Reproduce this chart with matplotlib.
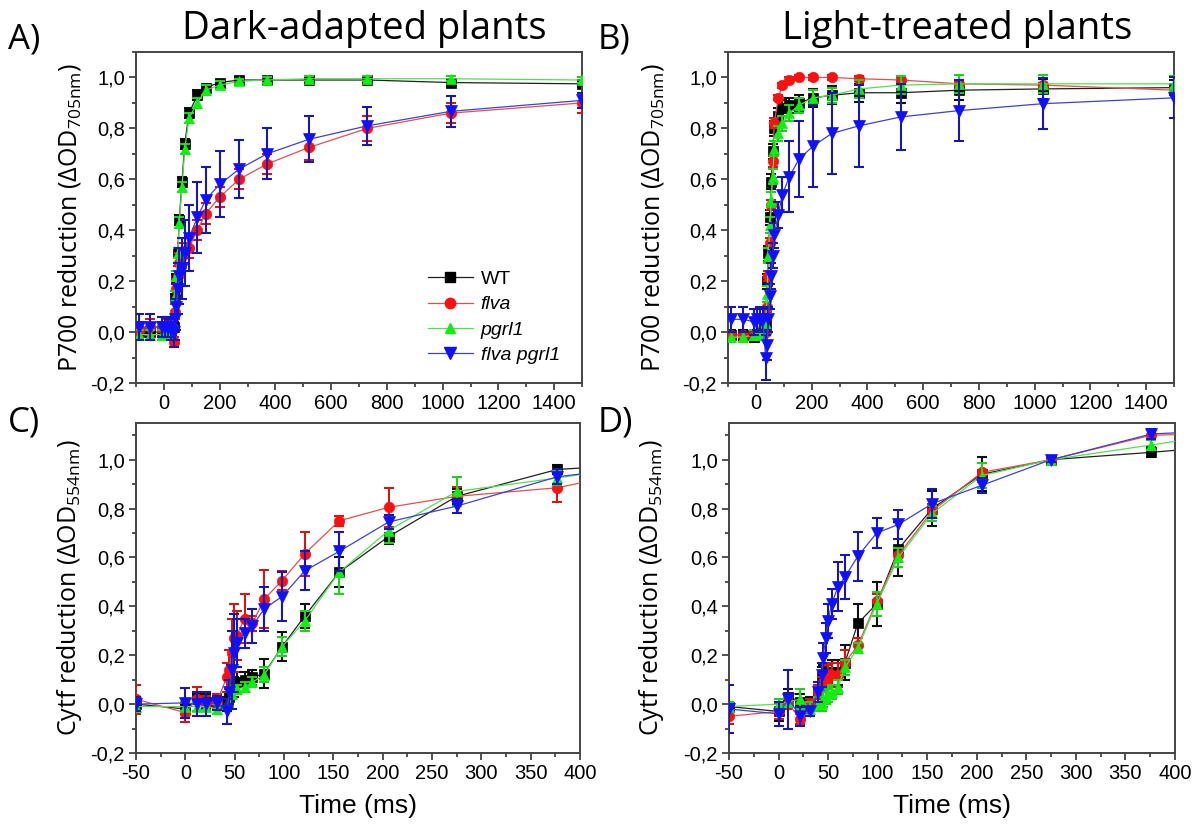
import matplotlib
matplotlib.use("Agg")
import matplotlib.pyplot as plt
from matplotlib.lines import Line2D
from matplotlib.ticker import MultipleLocator, FuncFormatter

# ---------------- data ----------------
series_names = ["WT", "flva", "pgrl1", "flva pgrl1"]

# Panel A: dark-adapted, P700 reduction
tA = [-90, -50, -5, 5, 15, 25, 35, 40, 45, 50, 55, 65, 75, 90, 120, 150, 200, 270, 370, 520, 730, 1030, 1500]
A_wt = [0.0, 0.0, 0.0, 0.0, 0.0, 0.0, 0.02, 0.13, 0.21, 0.31, 0.44, 0.59, 0.74, 0.86, 0.93, 0.96, 0.98, 0.99, 0.99, 0.99, 0.99, 0.98, 0.975]
A_flva = [0.01, 0.02, 0.02, 0.02, 0.03, 0.02, -0.04, 0.08, 0.17, 0.22, 0.27, 0.30, 0.32, 0.33, 0.40, 0.465, 0.53, 0.60, 0.66, 0.725, 0.80, 0.86, 0.90]
A_pgrl1 = [-0.01, -0.01, -0.01, -0.01, -0.01, -0.01, 0.03, 0.14, 0.22, 0.31, 0.43, 0.57, 0.72, 0.84, 0.90, 0.95, 0.97, 0.985, 0.99, 0.995, 0.995, 0.995, 0.99]
A_dbl = [0.02, 0.02, 0.02, 0.02, 0.02, 0.01, 0.0, 0.05, 0.10, 0.17, 0.22, 0.25, 0.31, 0.37, 0.45, 0.52, 0.58, 0.64, 0.70, 0.757, 0.81, 0.867, 0.91]
A_wt_err = [0.02, 0.02, 0.02, 0.02, 0.02, 0.02, 0.02, 0.02, 0.02, 0.02, 0.02, 0.02, 0.02, 0.02, 0.02, 0.015, 0.01, 0.01, 0.01, 0.01, 0.01, 0.01, 0.01]
A_flva_err = [0.03, 0.03, 0.02, 0.02, 0.02, 0.02, 0.02, 0.03, 0.04, 0.04, 0.04, 0.05, 0.05, 0.04, 0.04, 0.04, 0.04, 0.04, 0.04, 0.05, 0.05, 0.04, 0.04]
A_pgrl1_err = [0.02, 0.02, 0.02, 0.02, 0.02, 0.02, 0.02, 0.02, 0.02, 0.02, 0.02, 0.02, 0.02, 0.02, 0.02, 0.02, 0.015, 0.01, 0.01, 0.01, 0.01, 0.01, 0.01]
A_dbl_err = [0.05, 0.05, 0.04, 0.04, 0.04, 0.04, 0.06, 0.08, 0.09, 0.10, 0.11, 0.12, 0.13, 0.13, 0.14, 0.13, 0.13, 0.115, 0.10, 0.09, 0.075, 0.06, 0.03]

# Panel B: light-treated, P700 reduction
tB = [-90, -45, -5, 5, 15, 25, 35, 40, 45, 50, 55, 60, 66, 80, 95, 120, 155, 205, 272, 370, 520, 730, 1030, 1500]
B_wt = [-0.01, -0.01, -0.02, -0.01, -0.01, 0.0, 0.03, 0.20, 0.31, 0.45, 0.59, 0.71, 0.80, 0.85, 0.88, 0.89, 0.90, 0.92, 0.93, 0.94, 0.94, 0.95, 0.955, 0.96]
B_flva = [-0.01, -0.01, -0.01, -0.01, -0.01, 0.0, 0.0, 0.10, 0.22, 0.35, 0.50, 0.67, 0.82, 0.92, 0.97, 0.99, 1.0, 1.0, 1.0, 0.995, 0.99, 0.975, 0.97, 0.95]
B_pgrl1 = [-0.02, -0.02, -0.01, -0.01, -0.01, 0.0, 0.03, 0.15, 0.30, 0.42, 0.52, 0.61, 0.72, 0.78, 0.82, 0.86, 0.89, 0.92, 0.93, 0.955, 0.97, 0.975, 0.975, 0.975]
B_dbl = [0.05, 0.05, 0.04, 0.05, 0.05, 0.05, -0.10, -0.05, 0.05, 0.14, 0.22, 0.30, 0.38, 0.46, 0.54, 0.61, 0.68, 0.73, 0.78, 0.81, 0.845, 0.87, 0.897, 0.92]
B_wt_err = [0.02, 0.02, 0.02, 0.02, 0.02, 0.02, 0.02, 0.03, 0.03, 0.03, 0.03, 0.03, 0.03, 0.03, 0.03, 0.03, 0.03, 0.035, 0.035, 0.035, 0.04, 0.04, 0.04, 0.03]
B_flva_err = [0.01, 0.01, 0.01, 0.01, 0.01, 0.01, 0.01, 0.02, 0.02, 0.02, 0.02, 0.02, 0.02, 0.01, 0.01, 0.01, 0.01, 0.01, 0.01, 0.01, 0.01, 0.01, 0.01, 0.01]
B_pgrl1_err = [0.02, 0.02, 0.02, 0.02, 0.02, 0.02, 0.02, 0.03, 0.03, 0.03, 0.03, 0.03, 0.03, 0.03, 0.03, 0.03, 0.03, 0.03, 0.03, 0.035, 0.035, 0.035, 0.035, 0.03]
B_dbl_err = [0.05, 0.05, 0.05, 0.04, 0.05, 0.04, 0.09, 0.06, 0.05, 0.05, 0.05, 0.05, 0.05, 0.05, 0.07, 0.14, 0.15, 0.16, 0.16, 0.16, 0.13, 0.12, 0.10, 0.08]

# Panel C: dark-adapted, Cytf reduction
tC = [-50, 0, 12, 21, 32, 42, 44.5, 47, 49, 52, 60, 68, 80, 98, 121, 156, 206, 275, 377, 500]
C_wt = [0.0, -0.02, 0.02, 0.01, 0.01, 0.0, 0.03, 0.06, 0.07, 0.09, 0.10, 0.11, 0.125, 0.235, 0.36, 0.54, 0.685, 0.85, 0.96, 0.99]
C_flva = [0.02, -0.035, 0.02, 0.005, 0.01, 0.11, 0.14, 0.21, 0.27, 0.28, 0.35, 0.33, 0.43, 0.505, 0.615, 0.75, 0.805, 0.85, 0.885, 0.99]
C_pgrl1 = [-0.01, -0.01, -0.01, -0.01, -0.02, 0.0, 0.0, 0.04, 0.06, 0.06, 0.07, 0.09, 0.12, 0.235, 0.34, 0.54, 0.71, 0.87, 0.925, 1.0]
C_dbl = [0.0, 0.005, 0.0, 0.0, 0.005, -0.03, 0.05, 0.14, 0.21, 0.25, 0.29, 0.32, 0.39, 0.44, 0.545, 0.625, 0.745, 0.81, 0.93, 0.99]
C_wt_err = [0.02, 0.02, 0.02, 0.03, 0.03, 0.03, 0.03, 0.04, 0.04, 0.04, 0.03, 0.03, 0.06, 0.06, 0.05, 0.06, 0.03, 0.03, 0.02, 0.0]
C_flva_err = [0.06, 0.04, 0.05, 0.03, 0.03, 0.06, 0.08, 0.14, 0.14, 0.10, 0.10, 0.03, 0.12, 0.04, 0.09, 0.02, 0.08, 0.04, 0.06, 0.0]
C_pgrl1_err = [0.02, 0.02, 0.02, 0.02, 0.02, 0.02, 0.02, 0.02, 0.02, 0.02, 0.02, 0.02, 0.03, 0.04, 0.04, 0.09, 0.05, 0.06, 0.03, 0.0]
C_dbl_err = [0.03, 0.06, 0.05, 0.05, 0.03, 0.05, 0.05, 0.16, 0.16, 0.10, 0.06, 0.07, 0.09, 0.10, 0.08, 0.08, 0.03, 0.03, 0.03, 0.0]

# Panel D: light-treated, Cytf reduction
tD = [-50, 0, 10, 22, 32, 40, 43.5, 45, 47.5, 50, 53.5, 60, 67, 80, 99, 121, 155, 205, 275, 376, 480]
D_wt = [-0.01, -0.03, 0.03, 0.01, 0.0, 0.05, 0.11, 0.12, 0.12, 0.13, 0.13, 0.13, 0.17, 0.33, 0.41, 0.635, 0.80, 0.94, 1.0, 1.03, 1.065]
D_flva = [-0.05, -0.03, 0.0, -0.06, 0.0, 0.05, 0.07, 0.09, 0.10, 0.12, 0.12, 0.12, 0.17, 0.24, 0.42, 0.61, 0.79, 0.948, 1.0, 1.10, 1.11]
D_pgrl1 = [-0.01, 0.0, 0.01, 0.02, -0.02, 0.0, 0.0, 0.02, 0.03, 0.04, 0.05, 0.07, 0.15, 0.23, 0.41, 0.60, 0.78, 0.935, 1.0, 1.06, 1.125]
D_dbl = [-0.02, -0.04, 0.02, -0.05, -0.03, 0.05, 0.12, 0.19, 0.27, 0.34, 0.41, 0.48, 0.52, 0.605, 0.70, 0.735, 0.82, 0.895, 1.0, 1.105, 1.125]
D_wt_err = [0.02, 0.04, 0.03, 0.03, 0.03, 0.03, 0.04, 0.04, 0.04, 0.04, 0.05, 0.05, 0.07, 0.08, 0.09, 0.11, 0.07, 0.07, 0.01, 0.02, 0.0]
D_flva_err = [0.03, 0.03, 0.02, 0.02, 0.02, 0.03, 0.04, 0.04, 0.04, 0.04, 0.05, 0.05, 0.05, 0.03, 0.03, 0.03, 0.03, 0.04, 0.01, 0.02, 0.0]
D_pgrl1_err = [0.02, 0.02, 0.02, 0.04, 0.03, 0.03, 0.03, 0.03, 0.03, 0.03, 0.03, 0.03, 0.03, 0.02, 0.05, 0.04, 0.03, 0.05, 0.01, 0.02, 0.0]
D_dbl_err = [0.10, 0.05, 0.12, 0.04, 0.02, 0.04, 0.05, 0.06, 0.06, 0.07, 0.06, 0.10, 0.09, 0.10, 0.06, 0.06, 0.06, 0.03, 0.01, 0.02, 0.0]

panel_titles = ["Dark-adapted plants", "Light-treated plants"]
panel_letters = ["A)", "B)", "C)", "D)"]
ylabel_p700 = "P700 reduction (ΔOD$_{\\mathregular{705nm}}$)"
ylabel_cyt = "Cytf reduction (ΔOD$_{\\mathregular{554nm}}$)"
xlabel = "Time (ms)"

# ---------------- style ----------------
TICK_FONT = "Liberation Sans"
HUM_FONT = "Open Sans"
plt.rcParams["font.family"] = [TICK_FONT, "DejaVu Sans"]
plt.rcParams["mathtext.fontset"] = "custom"
plt.rcParams["mathtext.rm"] = HUM_FONT

marker_colors = ["#000000", "#ff1010", "#10f010", "#1010ff"]
line_colors = ["#202020", "#e05050", "#50e050", "#4040d0"]
err_colors = ["#101010", "#d01818", "#20d020", "#1818b0"]
markers = ["s", "o", "^", "v"]
msizes = [6.5, 7.5, 7.5, 8]

W, H = 1195, 830
fig = plt.figure(figsize=(W / 100, H / 100), dpi=100)

def frac_box(l, t, r, b):
    return [l / W, 1 - b / H, (r - l) / W, (b - t) / H]

axA = fig.add_axes(frac_box(136, 52, 582, 383))
axB = fig.add_axes(frac_box(728, 52, 1174, 383))
axC = fig.add_axes(frac_box(136, 423, 580, 753))
axD = fig.add_axes(frac_box(729, 423, 1175, 753))

comma_fmt = FuncFormatter(lambda v, p: ("%.1f" % v).replace(".", ",").replace("-0,0", "0,0"))
int_fmt = FuncFormatter(lambda v, p: "%d" % round(v))

def draw(ax, t, ys, errs):
    for i in range(4):
        ax.errorbar(t, ys[i], yerr=errs[i], fmt="none", ecolor=err_colors[i],
                    elinewidth=1.5, capsize=3.5, capthick=1.5, zorder=2 + i)
        ax.plot(t, ys[i], color=line_colors[i], lw=0.9, zorder=2 + i)
        ax.plot(t, ys[i], ls="none", marker=markers[i], ms=msizes[i],
                mfc=marker_colors[i], mec=marker_colors[i], mew=0.5, zorder=2.5 + i,
                clip_on=True)

def style(ax, xlim, ylim, xmaj, xmin):
    ax.set_xlim(*xlim)
    ax.set_ylim(*ylim)
    ax.xaxis.set_major_locator(MultipleLocator(xmaj))
    ax.xaxis.set_minor_locator(MultipleLocator(xmin))
    ax.yaxis.set_major_locator(MultipleLocator(0.2))
    ax.yaxis.set_minor_locator(MultipleLocator(0.1))
    ax.yaxis.set_major_formatter(comma_fmt)
    ax.xaxis.set_major_formatter(int_fmt)
    ax.tick_params(which="both", direction="out", top=False, right=False,
                   color="#333333", width=1.2, labelsize=14.5, pad=3)
    ax.tick_params(which="major", length=5)
    ax.tick_params(which="minor", length=3)
    for s in ax.spines.values():
        s.set_color("#444444")
        s.set_linewidth(1.4)

draw(axA, tA, [A_wt, A_flva, A_pgrl1, A_dbl], [A_wt_err, A_flva_err, A_pgrl1_err, A_dbl_err])
draw(axB, tB, [B_wt, B_flva, B_pgrl1, B_dbl], [B_wt_err, B_flva_err, B_pgrl1_err, B_dbl_err])
draw(axC, tC, [C_wt, C_flva, C_pgrl1, C_dbl], [C_wt_err, C_flva_err, C_pgrl1_err, C_dbl_err])
draw(axD, tD, [D_wt, D_flva, D_pgrl1, D_dbl], [D_wt_err, D_flva_err, D_pgrl1_err, D_dbl_err])

style(axA, (-100, 1500), (-0.2, 1.1), 200, 100)
style(axB, (-100, 1500), (-0.2, 1.1), 200, 100)
style(axC, (-50, 400), (-0.2, 1.15), 50, 25)
style(axD, (-50, 400), (-0.2, 1.15), 50, 25)

for ax in (axC, axD):
    ax.set_xlabel(xlabel, fontsize=19, labelpad=8)

# y labels
for xp, yp, lab in [(70, 217, ylabel_p700), (652, 217, ylabel_p700),
                    (70, 588, ylabel_cyt), (652, 588, ylabel_cyt)]:
    fig.text(xp / W, 1 - yp / H, lab, rotation=90, ha="center", va="center",
             fontsize=18, family=HUM_FONT)

# titles and panel letters
fig.text(364 / W, 1 - 29 / H, panel_titles[0], ha="center", va="center", fontsize=27.5, family=HUM_FONT)
fig.text(957 / W, 1 - 29 / H, panel_titles[1], ha="center", va="center", fontsize=27.5, family=HUM_FONT)
fig.text(8 / W, 1 - 40 / H, panel_letters[0], ha="left", va="center", fontsize=25, family=HUM_FONT)
fig.text(598 / W, 1 - 40 / H, panel_letters[1], ha="left", va="center", fontsize=25, family=HUM_FONT)
fig.text(8 / W, 1 - 422 / H, panel_letters[2], ha="left", va="center", fontsize=25, family=HUM_FONT)
fig.text(598 / W, 1 - 422 / H, panel_letters[3], ha="left", va="center", fontsize=25, family=HUM_FONT)

# legend in panel A
handles = [Line2D([], [], color=line_colors[i], lw=0.9, marker=markers[i], ms=msizes[i],
                  mfc=marker_colors[i], mec=marker_colors[i]) for i in range(4)]
leg = axA.legend(handles, series_names, loc="upper left", bbox_to_anchor=(0.655, 0.34),
                 frameon=False, fontsize=14, handlelength=2.3, handletextpad=0.4,
                 labelspacing=0.4, borderpad=0, borderaxespad=0)
for i, txt in enumerate(leg.get_texts()):
    if i > 0:
        txt.set_style("italic")

fig.savefig("out.png", dpi=100)
